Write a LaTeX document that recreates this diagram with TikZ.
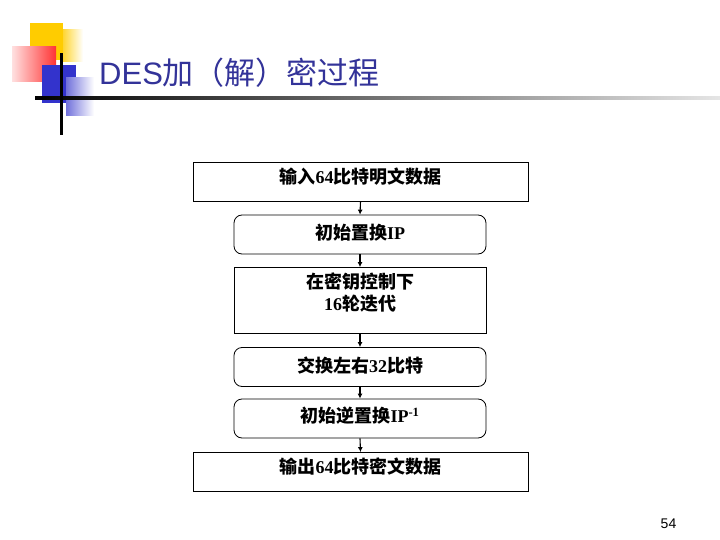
\documentclass[tikz,border=0pt]{standalone}
\usepackage{fontspec}
\setmainfont{Liberation Serif}
\newfontfamily\cjk{Noto Sans CJK SC}
\newfontfamily\titlesans{Liberation Sans}
\usetikzlibrary{arrows.meta}
\definecolor{titleblue}{HTML}{333399}
\definecolor{decoyellow}{HTML}{FFCC00}
\definecolor{decored}{HTML}{FF3333}
\definecolor{decoblue}{HTML}{3333CC}
\newcommand{\zb}[1]{{\cjk\bfseries #1}}
\newcommand{\lb}[1]{{\bfseries #1}}
\newcommand{\liftup}[2]{\raisebox{#1}[\height][\depth]{#2}}
\tikzset{
  boxtext/.style={font=\fontsize{18}{22}\selectfont},
  sqbox/.style={draw=black, line width=0.8pt, minimum width=335pt, minimum height=39pt, inner sep=0pt, align=center, boxtext},
  rbox/.style={draw=black, line width=0.8pt, rounded corners=8pt, minimum width=252pt, minimum height=39pt, inner sep=0pt, align=center, boxtext},
  ibox/.style={draw=black, line width=0.8pt, minimum width=252pt, minimum height=66pt, inner sep=0pt, align=center, boxtext},
  flow/.style={line width=1.1pt, -{Latex[length=5pt,width=5pt]}}
}
\begin{document}
\begin{tikzpicture}[x=1pt,y=-1pt]
\useasboundingbox (0,0) rectangle (720,540);
\fill[white] (0,0) rectangle (720,540);
% decoration
\fill[decoyellow] (30,23) rectangle (63,60);
\shade[left color=decoyellow!80, right color=white] (63,30) rectangle (83,62);
\shade[left color=decored!15, right color=decored] (12,47) rectangle (56,82);
\fill[decoblue] (42,65) rectangle (76,103);
\shade[left color=decoblue!70, right color=white] (66,78) rectangle (94,116);
\fill[decoblue] (42,65) rectangle (66,103);
\shade[left color=black, right color=black!10] (35,96.5) rectangle (720,99.5);
\fill[black] (59.5,53) rectangle (62.5,135);
% title
\node[anchor=base west, inner sep=0pt, text=titleblue, font=\fontsize{31}{34}\selectfont] (title) at (99,85) {\titlesans DES\cjk 加（解）密过程};
% boxes
\node[sqbox] (b1) at (360.5,181.5) {\liftup{4.5pt}{\zb{输入}\lb{64}\zb{比特明文数据}}};
\node[rbox] (b2) at (360,234.5) {\liftup{2pt}{\zb{初始置换}\lb{IP}}};
\node[ibox] (b3) at (360,300.5) {\liftup{6pt}{\begin{tabular}{@{}c@{}}\zb{在密钥控制下}\\\lb{16}\zb{轮迭代}\end{tabular}}};
\node[rbox] (b4) at (360,367) {\liftup{1.5pt}{\zb{交换左右}\lb{32}\zb{比特}}};
\node[rbox] (b5) at (360,418.5) {\liftup{2.5pt}{\zb{初始逆置换}\lb{IP}\textsuperscript{\lb{-1}}}};
\node[sqbox] (b6) at (360.5,472) {\liftup{5pt}{\zb{输出}\lb{64}\zb{比特密文数据}}};
\draw[flow] (b1.south) -- (b2.north);
\draw[flow] (b2.south) -- (b3.north);
\draw[flow] (b3.south) -- (b4.north);
\draw[flow] (b4.south) -- (b5.north);
\draw[flow] (b5.south) -- (b6.north);
% page number
\node[anchor=base, inner sep=0pt, font=\fontsize{14}{16}\selectfont] (pg) at (668.5,528) {\titlesans 54};
\end{tikzpicture}
\end{document}
